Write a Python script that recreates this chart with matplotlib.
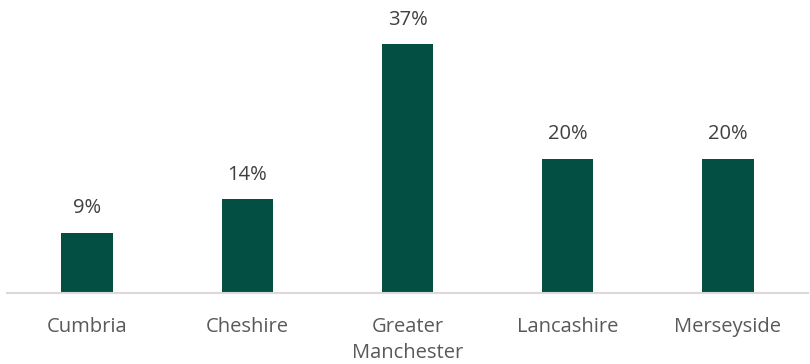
import matplotlib.pyplot as plt
import numpy as np

# dados do gráfico
regions = ["Cumbria", "Cheshire", "Greater\nManchester", "Lancashire", "Merseyside"]
shares = [9, 14, 37, 20, 20]

plt.rcParams['font.family'] = ['Open Sans', 'DejaVu Sans']

fig = plt.figure(figsize=(8.1, 3.64), dpi=100)
ax = fig.add_axes([7 / 810, 71 / 364, 801 / 810, 289 / 364])

x = np.arange(len(regions))
bars = ax.bar(x, shares, width=0.32, color='#034F43')

for rect, v in zip(bars, shares):
    ax.text(rect.get_x() + rect.get_width() / 2, v + 2.1, f"{v}%",
            ha='center', va='bottom', fontsize=14.5, color='#404040')

ax.set_xlim(-0.5, len(regions) - 0.5)
ax.set_ylim(0, 43)
ax.set_yticks([])
ax.set_xticks(x)
ax.set_xticklabels(regions, fontsize=14.5, color='#595959', va='top', linespacing=1.4)
ax.tick_params(axis='x', length=0, pad=17)

for side in ['top', 'right', 'left']:
    ax.spines[side].set_visible(False)
ax.spines['bottom'].set_color('#D9D9D9')
ax.spines['bottom'].set_linewidth(1.5)

fig.savefig('out.png', dpi=100)
